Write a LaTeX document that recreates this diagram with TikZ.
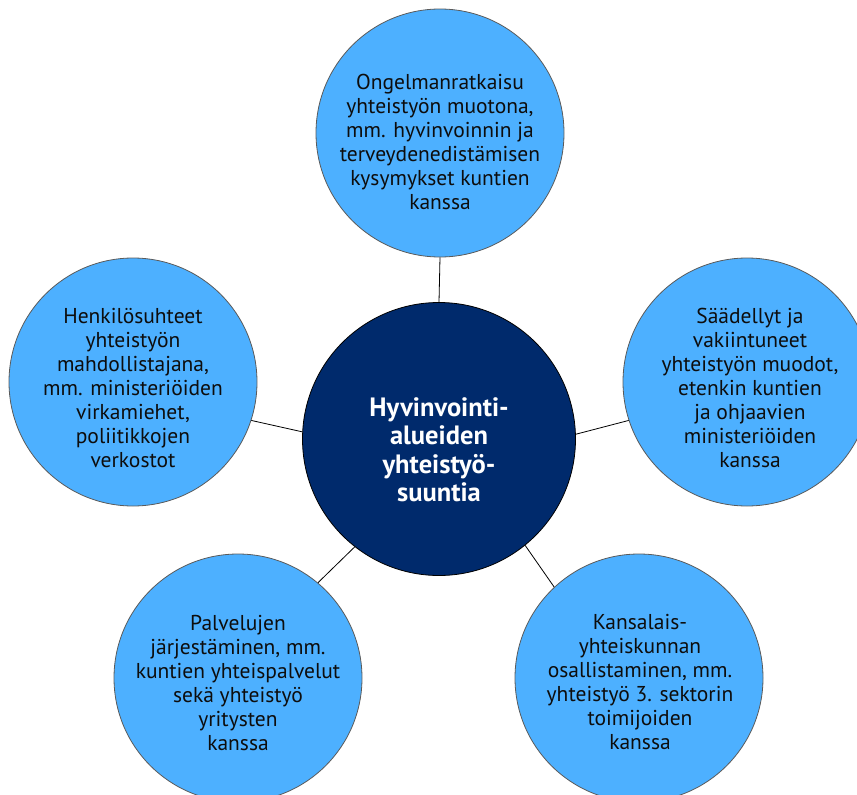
\documentclass[tikz,border=0pt]{standalone}
\usepackage{fontspec}
\setmainfont{PT Sans}
\definecolor{lightblue}{RGB}{77,176,255}
\definecolor{navy}{RGB}{0,42,108}
\definecolor{rimgray}{RGB}{90,90,90}
\begin{document}
\begin{tikzpicture}[x=1pt,y=-1pt,
  outer/.style={circle,draw=rimgray,line width=0.8pt,fill=lightblue,minimum size=248pt,inner sep=0pt},
  hub/.style={circle,draw=black,line width=0.8pt,fill=navy,minimum size=273pt,inner sep=0pt},
  txt/.style={align=center,font=\fontsize{21.5}{24}\selectfont,text=black!95,inner sep=0pt},
  hubtxt/.style={align=center,font=\fontsize{26.5}{28.5}\selectfont\bfseries,text=white,inner sep=0pt},
  link/.style={draw=black,line width=0.8pt}]
\useasboundingbox (0,0) rectangle (857,795);
\clip (0,0) rectangle (857,795);
\node[hub] (hub) at (439,439) {};
\node[outer] (top) at (440,133) {};
\node[outer] (right) at (747,382) {};
\node[outer] (left) at (133,382) {};
\node[outer] (bl) at (238,678) {};
\node[outer] (br) at (639,678) {};
\draw[link] (top.270) -- (hub.90);
\draw[link] (left.-18) -- (hub.177.5);
\draw[link] (right.198) -- (hub.2);
\draw[link] (bl.50) -- (hub.232);
\draw[link] (br.133) -- (hub.-51.5);
\node[hubtxt] (thub) at (439,450) {Hyvinvointi-\\alueiden\\yhteistyö-\\suuntia};
\node[txt] (ttop) at (440,142) {Ongelmanratkaisu\\yhteistyön muotona,\\mm. hyvinvoinnin ja\\terveydenedistämisen\\kysymykset kuntien\\kanssa};
\node[txt] (tright) at (750,388) {Säädellyt ja\\vakiintuneet\\yhteistyön muodot,\\etenkin kuntien\\ja ohjaavien\\ministeriöiden\\kanssa};
\node[txt] (tleft) at (133,388) {Henkilösuhteet\\yhteistyön\\mahdollistajana,\\mm. ministeriöiden\\virkamiehet,\\poliitikkojen\\verkostot};
\node[txt] (tbl) at (238,683) {Palvelujen\\järjestäminen, mm.\\kuntien yhteispalvelut\\sekä yhteistyö\\yritysten\\kanssa};
\node[txt] (tbr) at (640,682) {Kansalais-\\yhteiskunnan\\osallistaminen, mm.\\yhteistyö 3. sektorin\\toimijoiden\\kanssa};
\end{tikzpicture}
\end{document}
